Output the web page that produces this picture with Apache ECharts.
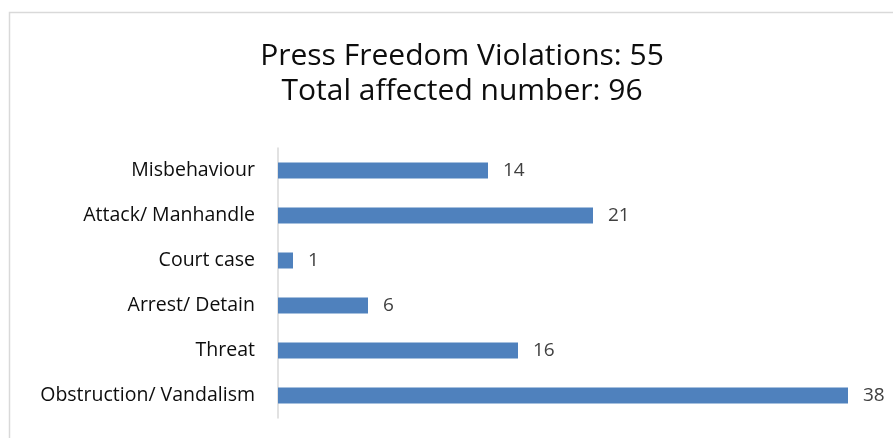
<!DOCTYPE html>
<html>
<head>
<meta charset="utf-8">
<script src="https://cdn.jsdelivr.net/npm/echarts@6/dist/echarts.min.js"></script>
<style>
  html, body { margin: 0; padding: 0; background: #fff; }
  #main { width: 893px; height: 438px; }
</style>
</head>
<body>
<div id="main"></div>
<script>
var app = echarts.init(document.getElementById('main'));

// bottom to top, as the bars are drawn
var categories = ['Obstruction/ Vandalism', 'Threat', 'Arrest/ Detain', 'Court case', 'Attack/ Manhandle', 'Misbehaviour'];
var counts = [38, 16, 6, 1, 21, 14];
var titleLines = ['Press Freedom Violations: 55', 'Total affected number: 96'];

var font = 'Open Sans';

option = {
    animation: false,
    textStyle: {fontFamily: font},
    graphic: [{
        type: 'rect',
        shape: {x: 9.5, y: 12.5, width: 900, height: 440},
        style: {fill: 'none', stroke: '#d9d9d9', lineWidth: 1.5},
        silent: true
    }],
    title: {
        text: titleLines.join('\n'),
        left: 457,
        textAlign: 'center',
        top: 34,
        textStyle: {fontFamily: font, fontSize: 30, fontWeight: 'normal', color: '#0d0d0d', lineHeight: 35}
    },
    grid: {left: 278, top: 148, width: 600, height: 270},
    xAxis: {
        type: 'value',
        min: 0,
        max: 40,
        show: false
    },
    yAxis: {
        type: 'category',
        data: categories,
        axisLine: {lineStyle: {color: '#d9d9d9', width: 1.5}},
        axisTick: {show: false},
        axisLabel: {fontFamily: font, fontSize: 19.5, color: '#0d0d0d', margin: 23}
    },
    series: [{
        type: 'bar',
        data: counts,
        barWidth: 16,
        itemStyle: {color: '#4f81bd'},
        label: {
            show: true,
            position: 'right',
            distance: 15,
            fontFamily: font,
            fontSize: 19,
            color: '#404040'
        }
    }]
};

app.setOption(option);
</script>
</body>
</html>
